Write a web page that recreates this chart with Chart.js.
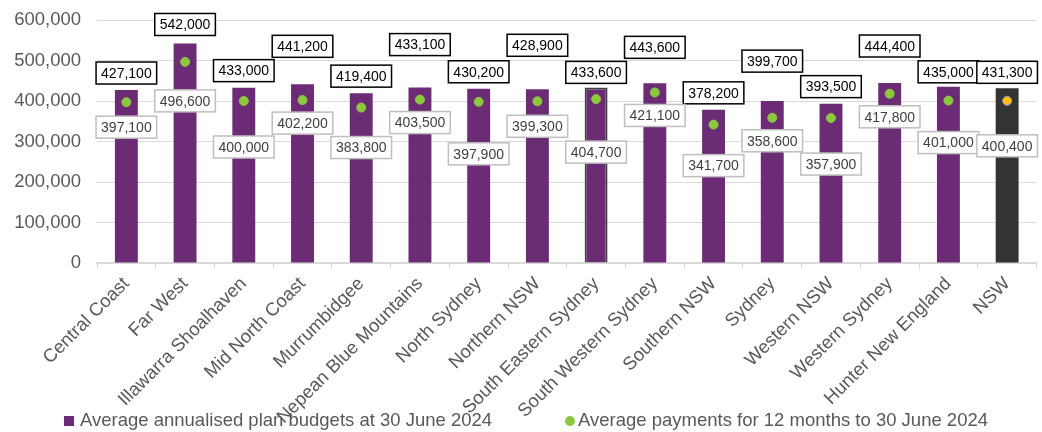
<!DOCTYPE html>
<html>
<head>
<meta charset="utf-8">
<script src="https://cdn.jsdelivr.net/npm/chart.js@4.4.1/dist/chart.umd.min.js"></script>
<style>
  html, body { margin: 0; padding: 0; background: #fff; }
  #wrap { width: 1042px; height: 432px; }
</style>
</head>
<body>
<div id="wrap"><canvas id="sil_chart"></canvas></div>
<script>
// districts, in the order they appear on the axis
const categories = [
    'Central Coast', 'Far West', 'Illawarra Shoalhaven', 'Mid North Coast',
    'Murrumbidgee', 'Nepean Blue Mountains', 'North Sydney', 'Northern NSW',
    'South Eastern Sydney', 'South Western Sydney', 'Southern NSW', 'Sydney',
    'Western NSW', 'Western Sydney', 'Hunter New England', 'NSW'
];
const budgets = [
    427100, 542000, 433000, 441200, 419400, 433100, 430200, 428900,
    433600, 443600, 378200, 399700, 393500, 444400, 435000, 431300
];
const payments = [
    397100, 496600, 400000, 402200, 383800, 403500, 397900, 399300,
    404700, 421100, 341700, 358600, 357900, 417800, 401000, 400400
];
const yTickValues = [0, 100000, 200000, 300000, 400000, 500000, 600000];
const seriesNames = [
    'Average annualised plan budgets at 30 June 2024',
    'Average payments for 12 months to 30 June 2024'
];

// hand placed label offsets (pixels), like the original
const barLabelLift = [17, 19, 17, 38, 17, 43, 17, 44, 15, 36, 17, 40, 17, 37, 15, 16];
const dotLabelDrop = [25, 39, 46, 23, 40, 23, 52, 25, 53, 23, 41, 23, 46, 23, 42, 45];

const PURPLE = '#6B2C75';
const GREEN = '#8DC63F';
const GREY_TEXT = '#595959';
const GRID = '#D9D9D9';
const FONT = "'Liberation Sans', Arial, sans-serif";

const fmt = (v) => v.toLocaleString('en-US');
const last = categories.length - 1;

function drawTag(ctx, text, x, y, border, color) {
    const w = ctx.measureText(text).width + 10;
    const h = 22;
    ctx.fillStyle = '#ffffff';
    ctx.fillRect(x - w / 2, y - h / 2, w, h);
    ctx.lineWidth = 1.5;
    ctx.strokeStyle = border;
    ctx.strokeRect(x - w / 2, y - h / 2, w, h);
    ctx.fillStyle = color;
    ctx.fillText(text, x, y + 1);
}

const valueLabels = {
    id: 'valueLabels',
    afterDatasetsDraw(chart) {
        const ctx = chart.ctx;
        const bars = chart.getDatasetMeta(0).data;
        const dots = chart.getDatasetMeta(1).data;
        ctx.save();
        ctx.font = '14px ' + FONT;
        ctx.textAlign = 'center';
        ctx.textBaseline = 'middle';
        bars.forEach((bar, i) => {
            drawTag(ctx, fmt(budgets[i]), bar.x, bar.y - barLabelLift[i], '#000000', '#000000');
        });
        dots.forEach((dot, i) => {
            drawTag(ctx, fmt(payments[i]), dot.x, dot.y + dotLabelDrop[i], '#BFBFBF', '#404040');
        });
        ctx.restore();
    }
};

// legend drawn by hand so the two entries sit apart like the original
const bottomLegend = {
    id: 'bottomLegend',
    afterDraw(chart) {
        const ctx = chart.ctx;
        const y = 421;
        ctx.save();
        ctx.font = '18.5px ' + FONT;
        ctx.textAlign = 'left';
        ctx.textBaseline = 'middle';
        ctx.fillStyle = PURPLE;
        ctx.fillRect(64, y - 5, 10, 10);
        ctx.fillStyle = GREY_TEXT;
        ctx.fillText(seriesNames[0], 80, y);
        ctx.fillStyle = GREEN;
        ctx.beginPath();
        ctx.arc(570, y, 5, 0, Math.PI * 2);
        ctx.fill();
        ctx.fillStyle = GREY_TEXT;
        ctx.fillText(seriesNames[1], 578, y);
        ctx.restore();
    }
};

const ctx = document.getElementById('sil_chart').getContext('2d');
const sil_chart = new Chart(ctx, {
    data: {
        labels: categories,
        datasets: [{
            type: 'bar',
            label: seriesNames[0],
            data: budgets,
            backgroundColor: categories.map((c, i) => i === last ? '#333333' : PURPLE),
            borderColor: categories.map((c) => c === 'South Eastern Sydney' ? '#404040' : 'rgba(0,0,0,0)'),
            borderWidth: categories.map((c) => c === 'South Eastern Sydney' ? 2 : 0),
            barPercentage: 0.39,
            categoryPercentage: 1,
            order: 1
        }, {
            type: 'line',
            label: seriesNames[1],
            data: payments,
            showLine: false,
            pointStyle: 'circle',
            pointRadius: 4.5,
            pointHoverRadius: 4.5,
            pointBackgroundColor: categories.map((c, i) => i === last ? '#FFC000' : GREEN),
            pointBorderColor: categories.map((c, i) => i === last ? '#A68BC7' : GREEN),
            pointBorderWidth: 1,
            order: 0
        }]
    },
    options: {
        responsive: true,
        maintainAspectRatio: false,
        animation: false,
        layout: {
            padding: { top: 0, left: 0, right: 4, bottom: 0 }
        },
        scales: {
            x: {
                offset: true,
                grid: {
                    offset: true,
                    drawOnChartArea: false,
                    color: GRID,
                    tickLength: 6
                },
                border: { color: GRID, width: 1.5 },
                ticks: {
                    autoSkip: false,
                    minRotation: 45,
                    maxRotation: 45,
                    padding: 4,
                    color: GREY_TEXT,
                    font: { family: FONT, size: 18.5 }
                },
                afterFit: (scale) => { scale.height = 169; }
            },
            y: {
                min: 0,
                max: 600000,
                afterBuildTicks: (scale) => {
                    scale.ticks = yTickValues.map((v) => ({ value: v }));
                },
                grid: { color: GRID, lineWidth: 1, drawTicks: false },
                border: { display: false },
                ticks: {
                    padding: 16,
                    color: GREY_TEXT,
                    font: { family: FONT, size: 18.5 },
                    callback: (v) => fmt(v)
                },
                afterFit: (scale) => {
                    scale.width = 97;
                    scale.paddingTop = 20;
                }
            }
        },
        plugins: {
            legend: { display: false },
            tooltip: { enabled: false }
        }
    },
    plugins: [valueLabels, bottomLegend]
});
</script>
</body>
</html>
